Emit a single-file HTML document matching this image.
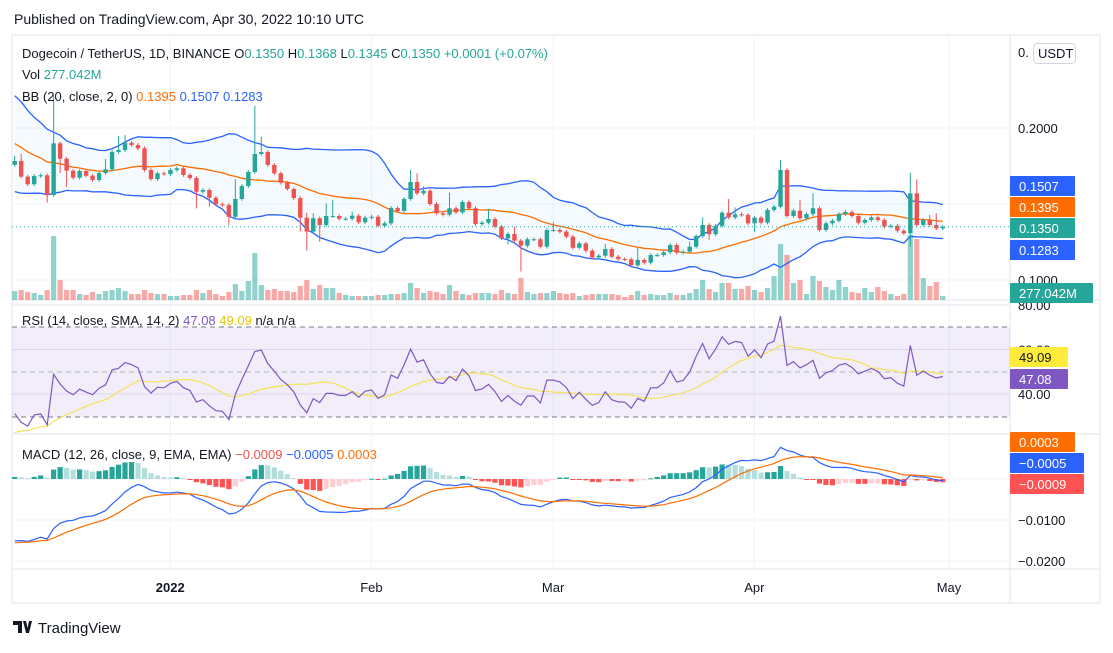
<!DOCTYPE html>
<html><head><meta charset="utf-8"><style>
body{margin:0;background:#fff;font-family:"Liberation Sans",sans-serif;}
svg text{font-family:"Liberation Sans",sans-serif;}
</style></head><body>
<svg id="c" width="1113" height="648" xmlns="http://www.w3.org/2000/svg">
<rect x="0" y="0" width="1113" height="648" fill="#fff"/>
<text x="14" y="24" font-size="14" fill="#131722">Published on TradingView.com, Apr 30, 2022 10:10 UTC</text>
<rect x="12" y="35" width="1088" height="568" fill="none" stroke="#e0e3eb"/>
<line x1="1010" y1="35" x2="1010" y2="603" stroke="#e0e3eb"/>
<line x1="12" y1="300" x2="1100" y2="300" stroke="#e0e3eb"/>
<line x1="12" y1="434" x2="1100" y2="434" stroke="#e0e3eb"/>
<line x1="12" y1="569" x2="1100" y2="569" stroke="#e0e3eb"/>
<g id="grid"></g>
<rect x="12" y="327" width="998" height="90" fill="#7e57c2" fill-opacity="0.1"/>
<line x1="12" y1="327" x2="1010" y2="327" stroke="#787b86" stroke-dasharray="5,4"/>
<line x1="12" y1="372" x2="1010" y2="372" stroke="#b2b5be" stroke-dasharray="5,4"/>
<line x1="12" y1="417" x2="1010" y2="417" stroke="#787b86" stroke-dasharray="5,4"/>
<g id="marks"></g>
<g id="labels"></g>
<text x="22" y="58" font-size="13" fill="#131722">Dogecoin / TetherUS, 1D, BINANCE  <tspan>O</tspan><tspan fill="#26a69a">0.1350</tspan> H<tspan fill="#26a69a">0.1368</tspan> L<tspan fill="#26a69a">0.1345</tspan> C<tspan fill="#26a69a">0.1350</tspan> <tspan fill="#26a69a">+0.0001 (+0.07%)</tspan></text>
<text x="22" y="79" font-size="13" fill="#131722">Vol <tspan fill="#26a69a">277.042M</tspan></text>
<text x="22" y="101" font-size="13" fill="#131722">BB (20, close, 2, 0)  <tspan fill="#ff6d00">0.1395</tspan>  <tspan fill="#2962ff">0.1507</tspan>  <tspan fill="#2962ff">0.1283</tspan></text>
<text x="22" y="325" font-size="13" fill="#131722">RSI (14, close, SMA, 14, 2)  <tspan fill="#7e57c2">47.08</tspan>  <tspan fill="#e6c800">49.09</tspan>  n/a  n/a</text>
<text x="22" y="459" font-size="13" fill="#131722">MACD (12, 26, close, 9, EMA, EMA)  <tspan fill="#ef5350">−0.0009</tspan>  <tspan fill="#2962ff">−0.0005</tspan>  <tspan fill="#ff6d00">0.0003</tspan></text>
<g>
<path d="M13 621h9v12h-4v-8h-5z M23 621l3 12h3l3-12h-3l-1.5 7-1.5-7z" fill="#131722"/>
<text x="38" y="633" font-size="15" fill="#131722">TradingView</text>
</g>
</svg>
<script>
const closes=[.1783,.1680,.1630,.1684,.1689,.1559,.1899,.1798,.1719,.1673,.1717,.1686,
.1658,.1704,.1728,.1842,.1855,.1903,.1888,.1866,.1724,.1664,.1702,.1697,
.1724,.1735,.1691,.1671,.1581,.1592,.1541,.1498,.1493,.1416,.1533,.1618,
.1711,.1829,.1842,.1757,.1702,.1640,.1599,.1539,.1410,.1318,.1406,.1362,
.1421,.1421,.1403,.1403,.1423,.1380,.1410,.1416,.1357,.1373,.1474,.1454,
.1533,.1645,.1570,.1587,.1500,.1439,.1430,.1472,.1445,.1513,.1472,.1368,
.1377,.1401,.1351,.1274,.1303,.1259,.1226,.1268,.1268,.1219,.1329,.1329,
.1318,.1285,.1212,.1241,.1193,.1149,.1160,.1204,.1153,.1138,.1136,.1097,
.1132,.1114,.1164,.1164,.1182,.1230,.1180,.1186,.1219,.1289,.1362,.1301,
.1357,.1443,.1412,.1432,.1428,.1373,.1410,.1377,.1461,.1482,.1724,.1421,
.1456,.1406,.1434,.1472,.1329,.1373,.1390,.1434,.1447,.1421,.1377,.1395,
.1412,.1395,.1351,.1357,.1324,.1307,.1570,.1362,.1395,.1362,.1340,.1350];
// closes before the visible range (estimated), used only to warm up indicators
const priorCloses=[0.248,0.241,0.245,0.236,0.229,0.233,0.224,0.218,0.222,0.212,0.205,0.209,0.199,
0.193,0.197,0.188,0.183,0.186,0.178,0.181,0.174,0.177,0.172,0.176,0.171,0.175];
const firstOpen=0.1758;
const wickUp=[3.3,4.6,1.2,1.2,1.2,1.2,31.6,1.2,1.2,1.2,1.2,1.2,
1.2,1.2,6.8,1.2,9.2,5,1.2,1.2,1.2,1.2,1.2,1.2,
1.2,1.2,1.2,1.2,1.2,1.2,1.2,1.2,1.2,1.2,13,1.2,
1.2,31.6,10,1.2,1.2,1.2,1.2,1.2,1.2,3.3,3.3,1.2,
8.3,10.5,1.2,1.2,2.6,1.2,1.2,1.2,1.2,1.2,1.2,1.2,
1.2,7.9,5.7,3,1.2,1.2,1.2,10.3,1.2,1.2,1.2,1.2,
1.2,6.6,1.2,1.2,1.2,4.8,1.2,1.2,1.2,1.2,1.2,5,
1.2,1.2,1.2,1.2,1.2,1.2,1.2,3.3,1.2,1.2,1.2,1.2,
8,1.2,1.2,1.2,1.2,1.2,1.2,1.2,3.3,1.2,5,1.2,
1.2,1.2,9,4.6,1.2,1.2,1.2,1.2,1.2,1.2,6.6,1.2,
1.2,7,1.2,9.9,1.2,1.2,1.2,1.2,1.2,1.2,1.2,1.2,
1.2,1.2,1.2,1.2,1.2,1.2,13.5,9.2,1.2,3.3,7.7,1.2];
const wickDown=[1.2,1,1.2,1.2,1.2,5,1.2,9.4,10.7,1.2,1.2,1.2,
1.2,1.2,1.2,1.2,1.2,1.2,1.2,1.2,1.2,1.2,1.2,1.2,
1.2,1.2,1.2,1.2,11,1.2,6,1.2,1.2,5.5,1.2,1.2,
1.2,1.2,1.2,1.2,1.2,1.2,1.2,1.2,9.2,12.5,1.2,11,
1.2,1.2,1.2,1.2,1.2,1.2,1.2,1.2,1.2,1.2,1.2,1.2,
1.2,1.2,1.2,1.2,1.2,1.2,1.2,1.2,1.2,1.2,1.2,1.2,
1.2,1.2,1.2,1.2,4,1.2,17,1.2,1.2,1.2,1.2,1.2,
1.2,1.2,1.2,1.2,1.2,1.2,1.2,1.2,1.2,1.2,1.2,1.2,
1.2,1.2,1.2,1.2,1.2,1.2,1.2,1.2,1.2,1.2,1.2,3.7,
1.2,1.2,1.2,1.2,1.2,1.2,5.5,1.2,1.2,1.2,1.2,1.2,
1.2,1.2,1.2,1.2,1.2,1.2,1.2,1.2,1.2,1.2,1.2,1.2,
1.2,1.2,1.2,1.2,1.2,1.2,8.8,1.2,1.2,1.2,1.2,1.2];
const volumesM=[621,690,552,483,345,690,4416,1380,690,690,414,345,
552,414,621,690,828,621,414,414,690,483,414,414,
276,276,345,345,690,483,690,414,276,552,1104,621,
1311,3243,1035,690,759,621,621,552,966,1380,759,1035,
828,828,483,345,276,276,276,276,345,345,414,414,
483,1173,828,483,621,552,414,1035,621,414,345,483,
483,483,414,690,483,414,1518,552,414,483,483,621,
483,414,483,276,345,414,414,414,414,345,207,345,
621,345,414,345,345,483,345,345,483,759,1380,759,
552,1173,1173,759,759,966,690,552,828,1656,3864,3105,
1173,1380,414,1656,1311,897,690,1380,897,552,483,828,
552,897,621,414,276,414,4485,4209,1518,966,1242,277];
const timeLabels=["2022","Feb","Mar","Apr","May"];
const timeDayIdx=[24,55,83,114,144];
const priceTicks=[0.2,0.1];
const rsiTicks=[80,60,40];
const macdTicks=[-0.01,-0.02];

const NS="http://www.w3.org/2000/svg";
const marks=document.getElementById('marks'),grid=document.getElementById('grid'),labels=document.getElementById('labels');
function el(t,a,p){const e=document.createElementNS(NS,t);for(const k in a)e.setAttribute(k,a[k]);(p||marks).appendChild(e);return e;}
const xOf=i=>14.7+i*6.49;
const yP=p=>128+(0.2-p)*1520;
const yV=v=>300-v/69;
const yR=r=>305+(80-r)*2.225;
const yM=m=>479-m*4100;
const n=closes.length;
const opens=closes.map((c,i)=>i===0?firstOpen:closes[i-1]);
const G="#26a69a",R="#ef5350";
const all=priorCloses.concat(closes);const off=priorCloses.length;

timeDayIdx.forEach((d,k)=>{const x=xOf(d)-0.5*6.49+3;
 const l=el('line',{x1:x,y1:35,x2:x,y2:569,stroke:'#f0f3fa'},grid);
 
 
 const t=el('text',{x:x,y:592,'font-size':13,'text-anchor':'middle',fill:'#131722','font-weight':k===0?'bold':'normal'},labels);
 t.textContent=timeLabels[k];
 
 
});
priceTicks.forEach(p=>{const l=el('line',{x1:12,y1:yP(p),x2:1010,y2:yP(p),stroke:'#f0f3fa'},grid);
 
 
 const t=el('text',{x:1018,y:yP(p)+5,'font-size':13,fill:'#131722'},labels);t.textContent=p.toFixed(4);
 
 });
{const l=el('line',{x1:12,y1:yP(0.15),x2:1010,y2:yP(0.15),stroke:'#f0f3fa'},grid);
 
 }
rsiTicks.forEach(r=>{const l=el('line',{x1:12,y1:yR(r),x2:1010,y2:yR(r),stroke:'#e8e4f3'},grid);
 
 
 const t=el('text',{x:1018,y:yR(r)+5,'font-size':13,fill:'#131722'},labels);t.textContent=r.toFixed(2);
 
 });
macdTicks.concat([0]).forEach(m=>{const l=el('line',{x1:12,y1:yM(m),x2:1010,y2:yM(m),stroke:'#f0f3fa'},grid);
 
 
 if(m!==0){const t=el('text',{x:1018,y:yM(m)+5,'font-size':13,fill:'#131722'},labels);t.textContent='−'+Math.abs(m).toFixed(4);
 
 }});

// Bollinger
const basis=[],upper=[],lower=[];
for(let j=off;j<all.length;j++){const w=all.slice(Math.max(0,j-19),j+1);const m=w.reduce((a,b)=>a+b,0)/w.length;
 const sd=Math.sqrt(w.reduce((a,b)=>a+(b-m)*(b-m),0)/w.length);basis.push(m);upper.push(m+2*sd);lower.push(m-2*sd);}
const pts=(arr,f)=>arr.map((v,i)=>xOf(i).toFixed(1)+','+f(v).toFixed(1)).join(' ');
let fillPts=pts(upper,yP)+' '+lower.map((v,i)=>xOf(i).toFixed(1)+','+yP(v).toFixed(1)).reverse().join(' ');
let e=el('polygon',{points:fillPts,fill:'#2196f3','fill-opacity':0.05});


for(let i=0;i<n;i++){const up=closes[i]>=opens[i];
 const b=el('rect',{x:xOf(i)-2.6,y:yV(volumesM[i]),width:5.2,height:300-yV(volumesM[i]),fill:up?G:R,'fill-opacity':0.5});
 
 }
e=el('polyline',{points:pts(upper,yP),fill:'none',stroke:'#2962ff','stroke-width':1.3});


e=el('polyline',{points:pts(lower,yP),fill:'none',stroke:'#2962ff','stroke-width':1.3});


e=el('polyline',{points:pts(basis,yP),fill:'none',stroke:'#ff6d00','stroke-width':1.3});


for(let i=0;i<n;i++){const o=opens[i],c=closes[i],up=c>=o,col=up?G:R,x=xOf(i);
 const hi=Math.max(o,c)+wickUp[i]/1000,lo=Math.min(o,c)-wickDown[i]/1000;
 const w=el('line',{x1:x,y1:yP(hi),x2:x,y2:yP(lo),stroke:col,'stroke-width':1});
 
 
 const t=yP(Math.max(o,c)),h=Math.max(1,yP(Math.min(o,c))-t);
 const b=el('rect',{x:x-2.2,y:t,width:4.4,height:h,fill:col});
 
 }
e=el('line',{x1:12,y1:yP(closes[n-1]),x2:1010,y2:yP(closes[n-1]),stroke:G,'stroke-dasharray':'1,3'});



// RSI
const rsiAll=[];let ag=0,al=0;
for(let j=0;j<all.length;j++){if(j===0){rsiAll.push(50);continue;}const d=all[j]-all[j-1],g=Math.max(d,0),l=Math.max(-d,0);
 if(j<=14){ag=(ag*(j-1)+g)/j;al=(al*(j-1)+l)/j;}else{ag=(ag*13+g)/14;al=(al*13+l)/14;}
 rsiAll.push(al===0?100:100-100/(1+ag/al));}
const smaAll=rsiAll.map((v,j)=>{const w=rsiAll.slice(Math.max(0,j-13),j+1);return w.reduce((a,b)=>a+b,0)/w.length;});
const rsi=rsiAll.slice(off),rsiSma=smaAll.slice(off);
e=el('polyline',{points:pts(rsiSma,yR),fill:'none',stroke:'#f5e15a','stroke-width':1.2});


e=el('polyline',{points:pts(rsi,yR),fill:'none',stroke:'#7e57c2','stroke-width':1.2});



// MACD
const ema=(arr,p)=>{const k=2/(p+1),out=[];arr.forEach((v,i)=>out.push(i===0?v:v*k+out[i-1]*(1-k)));return out;};
const e12=ema(all,12),e26=ema(all,26);const macdAll=e12.map((v,i)=>v-e26[i]);const sigAll=ema(macdAll,9);
const macd=macdAll.slice(off),sig=sigAll.slice(off);
const histAll=macdAll.map((v,i)=>v-sigAll[i]);const hist=histAll.slice(off);
for(let i=0;i<n;i++){const h=hist[i],prev=histAll[i+off-1];
 let col=h>=0?(h>=prev?'#26a69a':'#b2dfdb'):(h<prev?'#ff5252':'#ffcdd2');
 const y0=yM(0),y1=yM(h);
 const b=el('rect',{x:xOf(i)-2.6,y:Math.min(y0,y1),width:5.2,height:Math.max(1,Math.abs(y1-y0)),fill:col});
 
 }
e=el('polyline',{points:pts(macd,yM),fill:'none',stroke:'#2962ff','stroke-width':1.2});


e=el('polyline',{points:pts(sig,yM),fill:'none',stroke:'#ff6d00','stroke-width':1.2});



function badge(y,txt,bg,fg,w,name){const r=el('rect',{x:1010,y:y-10,width:w,height:20,fill:bg,rx:1},labels);
 
 
 const t=el('text',{x:1019,y:y+5,'font-size':13,fill:fg},labels);t.textContent=txt;}
badge(186,'0.1507','#2962ff','#fff',65,'bb-upper-badge');
badge(207,'0.1395','#ff6d00','#fff',65,'bb-basis-badge');
badge(228,'0.1350','#26a69a','#fff',65,'last-price-badge');
badge(250,'0.1283','#2962ff','#fff',65,'bb-lower-badge');
badge(293,'277.042M','#26a69a','#fff',83,'volume-badge');
badge(357,'49.09','#ffeb3b','#131722',58,'rsi-sma-badge');
badge(379,'47.08','#7e57c2','#fff',58,'rsi-badge');
badge(442,'0.0003','#ff6d00','#fff',65,'macd-signal-badge');
badge(463,'−0.0005','#2962ff','#fff',74,'macd-badge');
badge(484,'−0.0009','#ff5252','#fff',74,'macd-hist-badge');
{const t=el('text',{x:1018,y:57,'font-size':13,fill:'#131722'},labels);t.textContent='0.';
 const r=el('rect',{x:1033.5,y:43.5,width:42,height:20,fill:'#fff',stroke:'#d1d4dc',rx:4},labels);
 
 
 const u=el('text',{x:1038,y:58,'font-size':13,fill:'#131722'},labels);u.textContent='USDT';}
</script>
</body></html>
